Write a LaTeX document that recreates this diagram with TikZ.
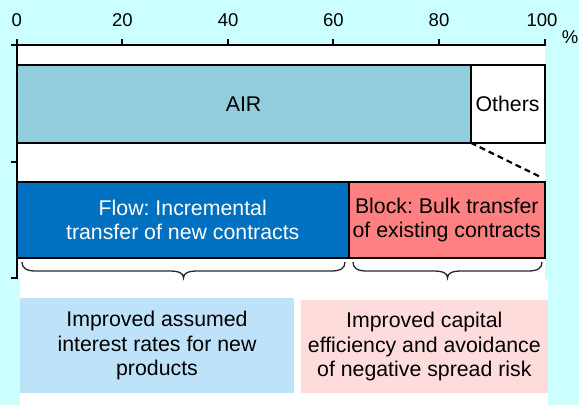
\documentclass[tikz,border=0pt]{standalone}
\usepackage{fontspec}
\setmainfont{Liberation Sans}
\usetikzlibrary{calc}
\frenchspacing
\definecolor{bgcyan}{RGB}{204,255,255}
\definecolor{airc}{RGB}{146,205,220}
\definecolor{flowc}{RGB}{0,112,192}
\definecolor{blockc}{RGB}{255,128,128}
\definecolor{lbluec}{RGB}{190,226,250}
\definecolor{lpinkc}{RGB}{255,220,220}
\definecolor{bracec}{RGB}{40,40,40}
\tikzset{
  barbox/.style={draw=black, line width=2pt, outer sep=0pt, inner sep=0pt, anchor=north west,
    font=\fontsize{21.3}{24.2}\selectfont, align=center},
  notebox/.style={outer sep=0pt, inner sep=0pt, anchor=north west,
    font=\fontsize{21.3}{24.3}\selectfont, align=center},
  ticklabel/.style={anchor=base, inner sep=0pt, font=\fontsize{18.5}{20}\selectfont},
  axisline/.style={line width=2pt, line cap=rect},
  bracestyle/.style={draw=bracec, line width=1.3pt},
}
\begin{document}
\begin{tikzpicture}[x=1pt,y=-1pt]
\useasboundingbox (0,0) rectangle (579,405);
\fill[bgcyan] (0,0) rectangle (579,405);
% white panels
\fill[white] (17,46) rectangle (545,279);
\fill[white] (20,279) rectangle (548,405);
% axis
\draw[axisline] (16.5,45) -- (544.5,45);
\draw[axisline] (16.5,45) -- (16.5,278);
\foreach \p in {0,20,40,60,80,100}{
  \draw[line width=2pt] ({16.5+5.28*\p},45) -- ({16.5+5.28*\p},39);
}
\foreach \yy in {45,162,278}{
  \draw[line width=2pt] (16.5,\yy) -- (10.5,\yy);
}
\node[ticklabel] (t0) at (16.7,26.7) {0};
\node[ticklabel] (t20) at (122.3,26.7) {20};
\node[ticklabel] (t40) at (228.1,26.7) {40};
\node[ticklabel] (t60) at (333.3,26.7) {60};
\node[ticklabel] (t80) at (439,26.7) {80};
\node[ticklabel] (t100) at (542,26.7) {100};
\node[ticklabel] (pct) at (570,43) {\%};
% bars
\node[barbox, fill=airc, minimum width=454.2pt, minimum height=77.7pt] (air) at (16.5,65) {AIR};
\node[barbox, fill=white, minimum width=73.8pt, minimum height=77.7pt] (others) at (470.7,65) {Others};
\node[barbox, fill=flowc, text=white, minimum width=332.5pt, minimum height=76.6pt] (flow) at (16.5,181.7) {Flow: Incremental\\transfer of new contracts};
\node[barbox, fill=blockc, minimum width=195.5pt, minimum height=76.6pt] (block) at (349,181.7) {Block: Bulk transfer\\of existing contracts};
% dashed connector
\draw[line width=2.2pt, dash pattern=on 6pt off 4pt] (others.south west) -- ($(block.north east)+(-2.5,-4)$);
% braces
\draw[bracestyle] (22,262) .. controls (22,268) and (26,271) .. (36,271) -- (169,271) .. controls (179,271) and (183.5,273) .. (183.5,278) .. controls (183.5,273) and (188,271) .. (198,271) -- (331,271) .. controls (341,271) and (345,268) .. (345,262);
\draw[bracestyle] (353,262) .. controls (353,268) and (357,271) .. (367,271) -- (433,271) .. controls (443,271) and (447.5,273) .. (447.5,278) .. controls (447.5,273) and (452,271) .. (462,271) -- (528,271) .. controls (538,271) and (542,268) .. (542,262);
% effect boxes
\node[notebox, fill=lbluec, minimum width=274pt, minimum height=95pt] (effflow) at (20,298) {Improved assumed\\interest rates for new\\products};
\node[notebox, fill=lpinkc, minimum width=246.7pt, minimum height=93.3pt] (effblock) at (301,300) {Improved capital\\efficiency and avoidance\\of negative spread risk};
\end{tikzpicture}
\end{document}
